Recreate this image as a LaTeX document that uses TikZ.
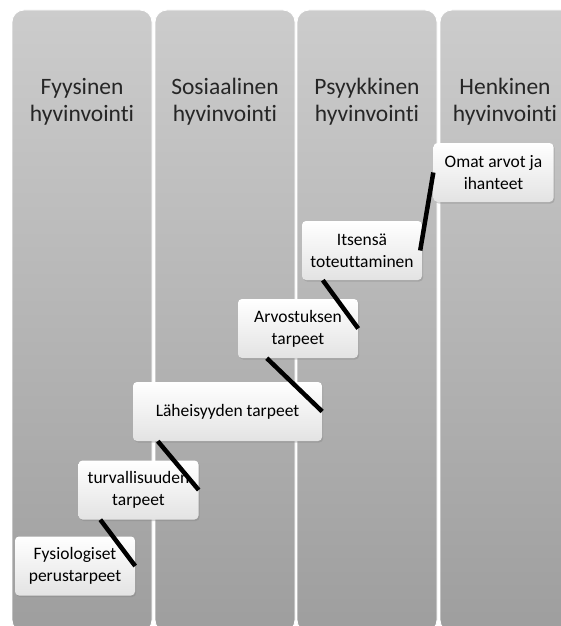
\documentclass[tikz,border=0pt]{standalone}
\usepackage{fontspec}
\setmainfont{Carlito}[Ligatures=NoCommon]
\usepackage{tikz}
\usetikzlibrary{positioning, shadows}

\definecolor{coltop}{RGB}{204,204,204}
\definecolor{colbot}{RGB}{158,158,158}

\begin{document}
\begin{tikzpicture}[x=1pt, y=-1pt,
    column/.style={rectangle, rounded corners=12pt, top color=coltop, bottom color=colbot,
                   draw=white, line width=0.8pt, minimum width=140pt, minimum height=622pt},
    heading/.style={align=center, font=\fontsize{23.5}{27}\selectfont, text=black!85},
    need/.style={rectangle, rounded corners=4pt, top color=white, bottom color=gray!22,
                 drop shadow={opacity=0.35, shadow xshift=1.2pt, shadow yshift=-1.5pt},
                 minimum width=120pt, minimum height=59pt, inner sep=1pt, align=center,
                 font=\fontsize{17.5}{22}\selectfont},
    link/.style={line width=4.5pt, black}
]
    \useasboundingbox[fill=white] (0,0) rectangle (561,626);

    % Columns
    \node[column] (fyys) at (82,321) {};
    \node[column] (sosi) at (225,321) {};
    \node[column] (psyy) at (367,321) {};
    \node[column] (henk) at (510,321) {};

    % Column headings
    \node[heading] (fyyst) at (82,102) {Fyysinen\\hyvinvointi};
    \node[heading] (sosit) at (225,102) {Sosiaalinen\\hyvinvointi};
    \node[heading] (psyyt) at (367,102) {Psyykkinen\\hyvinvointi};
    \node[heading] (henkt) at (505,102) {Henkinen\\hyvinvointi};

    % Needs
    \node[need] (fysio) at (75,566) {Fysiologiset\\perustarpeet};
    \node[need] (turva) at (138.5,490) {turvallisuuden\\tarpeet};
    \node[need, minimum width=189pt] (lahei) at (227.5,411.5) {Läheisyyden tarpeet};
    \node[need] (arvos) at (298,328.5) {Arvostuksen\\tarpeet};
    \node[need] (itsen) at (362,250.5) {Itsensä\\toteuttaminen};
    \node[need] (omat) at (493.5,172.5) {Omat arvot ja\\ihanteet};

    % Links
    \draw[link] ([xshift=22pt]turva.south west) -- (fysio.east);
    \draw[link] ([xshift=25pt]lahei.south west) -- (turva.east);
    \draw[link] ([xshift=29pt]arvos.south west) -- (lahei.east);
    \draw[link] ([xshift=21pt]itsen.south west) -- (arvos.east);
    \draw[link] (omat.west) -- ([xshift=-2pt]itsen.east);

\end{tikzpicture}
\end{document}
